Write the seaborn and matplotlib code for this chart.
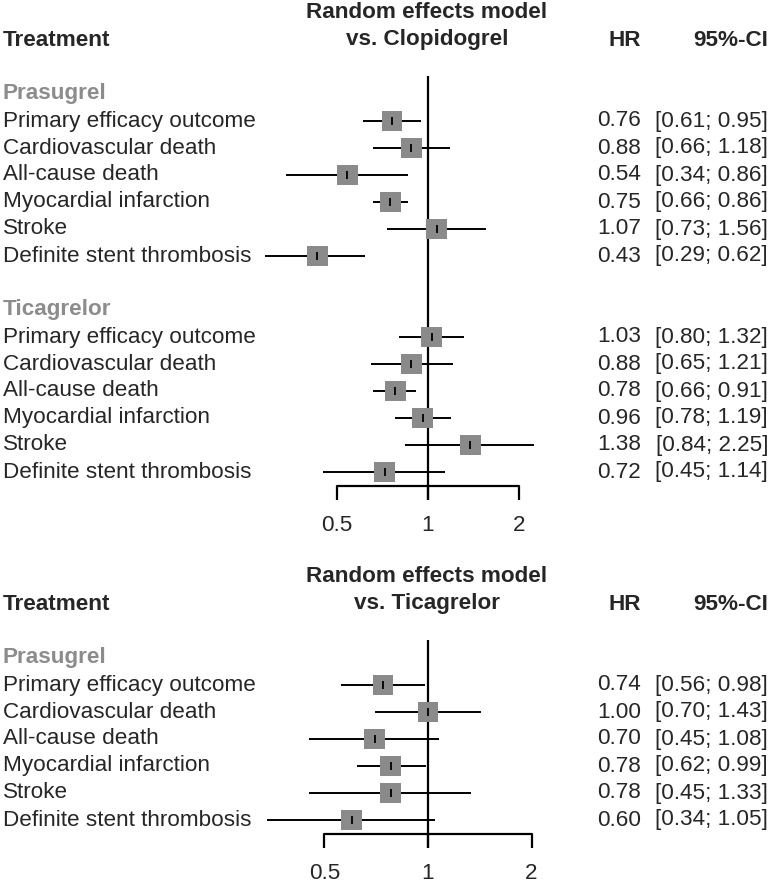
import numpy as np
import pandas as pd
import seaborn as sns
import matplotlib.pyplot as plt

outcomes = ["Primary efficacy outcome", "Cardiovascular death", "All-cause death",
            "Myocardial infarction", "Stroke", "Definite stent thrombosis"]

# vs. Clopidogrel
pras_clop_hr = [0.76, 0.88, 0.54, 0.75, 1.07, 0.43]
pras_clop_lo = [0.61, 0.66, 0.34, 0.66, 0.73, 0.29]
pras_clop_hi = [0.95, 1.18, 0.86, 0.86, 1.56, 0.62]
tica_clop_hr = [1.03, 0.88, 0.78, 0.96, 1.38, 0.72]
tica_clop_lo = [0.80, 0.65, 0.66, 0.78, 0.84, 0.45]
tica_clop_hi = [1.32, 1.21, 0.91, 1.19, 2.25, 1.14]

# vs. Ticagrelor
pras_tica_hr = [0.74, 1.00, 0.70, 0.78, 0.78, 0.60]
pras_tica_lo = [0.56, 0.70, 0.45, 0.62, 0.45, 0.34]
pras_tica_hi = [0.98, 1.43, 1.08, 0.99, 1.33, 1.05]

ticks = [0.5, 1, 2]
tick_labels = ["0.5", "1", "2"]

W, H = 773, 885
ROW = 27.0
FS = 16.2
SQ_COL = "#8a8a8a"

sns.set_style("white")
plt.rcParams["font.family"] = ["Liberation Sans", "DejaVu Sans"]

fig = plt.figure(figsize=(W / 100, H / 100), dpi=100)


def forest(top_px, bot_px, row0_px, ppd, comparator, groups):
    ax = fig.add_axes([0, 1 - bot_px / H, 1, (bot_px - top_px) / H])
    trans = ax.get_yaxis_transform()

    recs = []
    r = 2
    for gname, hr, lo, hi in groups:
        ax.text(3 / W, r, gname, transform=trans, ha="left", va="center",
                fontsize=FS, fontweight="bold", color="#8c8c8c")
        r += 1
        for name, h, l, u in zip(outcomes, hr, lo, hi):
            recs.append(dict(row=r, name=name, hr=h, lo=l, hi=u))
            r += 1
        r += 1
    df = pd.DataFrame(recs)
    last = df.row.max()

    # header
    ax.text(3 / W, 0, "Treatment", transform=trans, ha="left", va="center",
            fontsize=FS, fontweight="bold")
    ax.text(427 / W, -1, "Random effects model", transform=trans, ha="center",
            va="center", fontsize=FS, fontweight="bold")
    ax.text(427 / W, 0, "vs. " + comparator, transform=trans, ha="center",
            va="center", fontsize=FS, fontweight="bold")
    ax.text(641 / W, 0, "HR", transform=trans, ha="right", va="center",
            fontsize=FS, fontweight="bold")
    ax.text(768 / W, 0, "95%-CI", transform=trans, ha="right", va="center",
            fontsize=FS, fontweight="bold")

    for _, d in df.iterrows():
        ax.text(3 / W, d.row, d["name"], transform=trans, ha="left", va="center", fontsize=FS)
        ax.text(641 / W, d.row, f"{d.hr:.2f}", transform=trans, ha="right", va="center", fontsize=FS)
        ax.text(768 / W, d.row, f"[{d.lo:.2f}; {d.hi:.2f}]", transform=trans,
                ha="right", va="center", fontsize=FS)

    ax.vlines(1, 1.35, last + 1.05, color="black", lw=1.6, zorder=1)
    ax.hlines(df.row, df.lo, df.hi, color="black", lw=1.4, zorder=2)
    sns.scatterplot(data=df, x="hr", y="row", marker="s", s=225, color=SQ_COL,
                    edgecolor="none", legend=False, ax=ax, zorder=3)
    ax.scatter(df.hr, df.row, marker="|", s=35, color="black", linewidths=1.3, zorder=4)

    # x axis
    ax.plot([ticks[0], ticks[-1]], [last + 0.5, last + 0.5], color="black", lw=1.6)
    ax.vlines(ticks, last + 0.5, last + 1.05, color="black", lw=1.6)
    for t, lab in zip(ticks, tick_labels):
        ax.text(t, last + 1.98, lab, ha="center", va="center", fontsize=FS)

    ax.set_xscale("log", base=2)
    ax.set_xlim(2 ** ((0 - 428) / ppd), 2 ** ((W - 428) / ppd))
    ax.set_ylim((bot_px - row0_px) / ROW, (top_px - row0_px) / ROW)
    ax.axis("off")
    return ax


forest(0, 545, 40, 91, "Clopidogrel",
       [("Prasugrel", pras_clop_hr, pras_clop_lo, pras_clop_hi),
        ("Ticagrelor", tica_clop_hr, tica_clop_lo, tica_clop_hi)])
forest(545, 885, 604, 103.5, "Ticagrelor",
       [("Prasugrel", pras_tica_hr, pras_tica_lo, pras_tica_hi)])

fig.savefig("out.png", dpi=100)
